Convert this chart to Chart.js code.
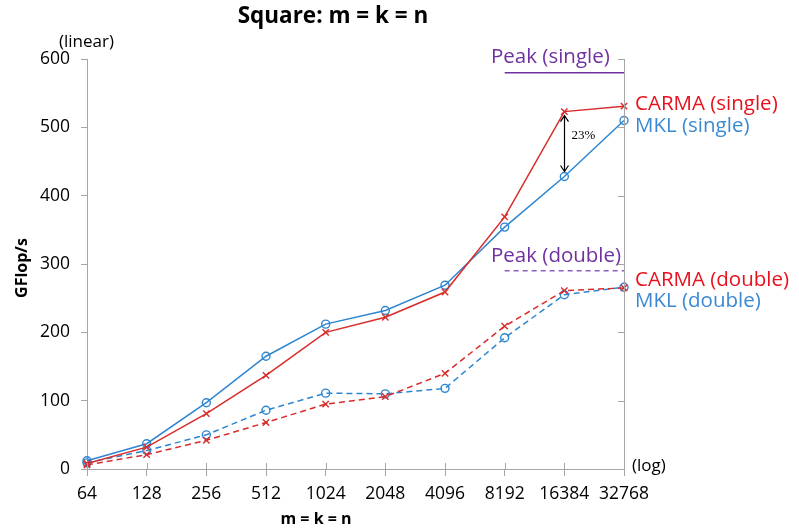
<!DOCTYPE html>
<html>
<head>
<meta charset="utf-8">
<script src="https://cdn.jsdelivr.net/npm/chart.js@4"></script>
<style>
  body { margin: 0; background: #fff; }
  #wrap { width: 799px; height: 531px; }
</style>
</head>
<body>
<div id="wrap"><canvas id="chart" width="799" height="531"></canvas></div>
<script>
const sizes = ['64', '128', '256', '512', '1024', '2048', '4096', '8192', '16384', '32768'];
const carmaSingle = [8, 32, 81, 137, 200, 222, 259, 369, 523, 531];
const mklSingle = [12, 37, 97, 165, 212, 232, 269, 354, 428, 510];
const carmaDouble = [6, 21, 42, 68, 95, 106, 140, 209, 261, 265];
const mklDouble = [9, 27, 50, 86, 111, 110, 118, 192, 255, 266];
const peakSingle = [null, null, null, null, null, null, null, 580, 580, 580];
const peakDouble = [null, null, null, null, null, null, null, 290, 290, 290];
const yTicks = [0, 100, 200, 300, 400, 500, 600];

const RED = '#d92b2b';
const BLUE = '#2e86d1';
const PURPLE = '#7030a0';
const AXIS = '#a6a6a6';
const FONT = '"Open Sans", sans-serif';

const labelsPlugin = {
    id: 'labels',
    afterDraw(c) {
        const ctx = c.ctx;
        const x = c.scales.x, y = c.scales.y;
        const area = c.chartArea;
        ctx.save();

        // right axis line with inner ticks
        ctx.strokeStyle = AXIS;
        ctx.lineWidth = 1;
        ctx.beginPath();
        ctx.moveTo(area.right + 0.5, area.top);
        ctx.lineTo(area.right + 0.5, area.bottom);
        yTicks.forEach(v => {
            const py = Math.round(y.getPixelForValue(v)) + 0.5;
            ctx.moveTo(area.right - 6, py);
            ctx.lineTo(area.right, py);
        });
        // x ticks above the axis too
        sizes.forEach((s, i) => {
            const px = Math.round(x.getPixelForValue(i)) + 0.5;
            ctx.moveTo(px, area.bottom - 6);
            ctx.lineTo(px, area.bottom);
        });
        ctx.stroke();

        // title and axis titles
        ctx.fillStyle = '#000';
        ctx.textBaseline = 'middle';
        ctx.textAlign = 'center';
        ctx.font = 'bold 22.5px ' + FONT;
        ctx.fillText('Square: m = k = n', 333, 17);
        ctx.font = 'bold 16px ' + FONT;
        ctx.fillText('m = k = n', 316, 519);
        ctx.save();
        ctx.translate(22, 268);
        ctx.rotate(-Math.PI / 2);
        ctx.fillText('GFlop/s', 0, 0);
        ctx.restore();
        ctx.textAlign = 'left';
        ctx.font = '17px ' + FONT;
        ctx.fillText('(linear)', 59, 42);
        ctx.fillText('(log)', 632, 466);

        // series labels
        ctx.font = '20.5px ' + FONT;
        ctx.fillStyle = '#e8101c';
        ctx.fillText('CARMA (single)', 635, 104);
        ctx.fillText('CARMA (double)', 635, 280);
        ctx.fillStyle = '#3a8ad3';
        ctx.fillText('MKL (single)', 635, 126);
        ctx.fillText('MKL (double)', 635, 301);
        ctx.fillStyle = PURPLE;
        ctx.fillText('Peak (single)', 491, 57);
        ctx.fillText('Peak (double)', 491, 256);

        // 23% arrow
        const ax = Math.round(x.getPixelForValue(8)) + 0.5;
        const y1 = y.getPixelForValue(carmaSingle[8]) + 4;
        const y2 = y.getPixelForValue(mklSingle[8]) - 5;
        ctx.strokeStyle = '#000';
        ctx.lineWidth = 1.2;
        ctx.beginPath();
        ctx.moveTo(ax, y1);
        ctx.lineTo(ax, y2);
        ctx.moveTo(ax - 4, y1 + 6);
        ctx.lineTo(ax, y1);
        ctx.lineTo(ax + 4, y1 + 6);
        ctx.moveTo(ax - 4, y2 - 6);
        ctx.lineTo(ax, y2);
        ctx.lineTo(ax + 4, y2 - 6);
        ctx.stroke();
        ctx.fillStyle = '#000';
        ctx.font = '13px "Liberation Serif", serif';
        ctx.fillText('23%', ax + 7, 136);

        ctx.restore();
    }
};

function series(data, color, dashed, marker) {
    return {
        data: data,
        borderColor: color,
        backgroundColor: '#fff',
        borderWidth: 1.5,
        borderDash: dashed ? [6, 4] : [],
        pointStyle: marker,
        pointRadius: marker === 'circle' ? 4 : 4.5,
        pointBorderColor: color,
        pointBackgroundColor: marker === 'circle' ? 'rgba(255,255,255,0)' : color,
        pointBorderWidth: 1.4,
        tension: 0
    };
}

new Chart(document.getElementById('chart'), {
    type: 'line',
    data: {
        labels: sizes,
        datasets: [
            series(carmaSingle, RED, false, 'crossRot'),
            series(mklSingle, BLUE, false, 'circle'),
            series(carmaDouble, RED, true, 'crossRot'),
            series(mklDouble, BLUE, true, 'circle'),
            { data: peakSingle, borderColor: PURPLE, borderWidth: 1.5, pointRadius: 0, spanGaps: false },
            { data: peakDouble, borderColor: '#8e5fc0', borderWidth: 1.5, borderDash: [5, 4], pointRadius: 0, spanGaps: false }
        ]
    },
    options: {
        responsive: false,
        animation: false,
        layout: { padding: { top: 59, right: 175, left: 0, bottom: 0 } },
        plugins: { legend: { display: false }, tooltip: { enabled: false } },
        scales: {
            x: {
                offset: false,
                afterFit(s) { s.height = 62; },
                grid: { display: true, drawOnChartArea: false, color: AXIS, tickLength: 7 },
                border: { color: AXIS, width: 1 },
                ticks: { color: '#000', font: { family: FONT, size: 17.5 }, padding: 8, maxRotation: 0, autoSkip: false }
            },
            y: {
                min: 0, max: 600,
                afterFit(s) { s.width = 87; },
                afterBuildTicks(s) { s.ticks = yTicks.map(v => ({ value: v })); },
                grid: { display: true, drawOnChartArea: false, color: AXIS, tickLength: 6 },
                border: { color: AXIS, width: 1 },
                ticks: { color: '#000', font: { family: FONT, size: 17.5 }, padding: 11 }
            }
        }
    },
    plugins: [labelsPlugin]
});
</script>
</body>
</html>
